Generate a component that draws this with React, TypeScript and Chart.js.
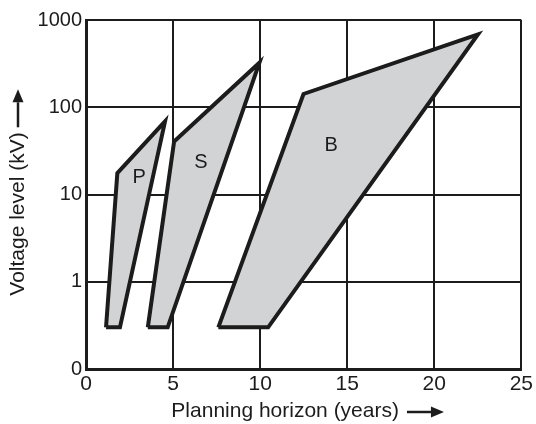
import React, { useEffect, useRef } from "react";
import { Chart, registerables } from "chart.js";

Chart.register(...registerables);

// Planning horizon (years) / Voltage level (kV) polygon vertices
const pX = [1.15, 1.95, 4.54, 1.8];
const pY = [0.3, 0.3, 69, 17.6];
const sX = [3.55, 4.69, 9.96, 5.06];
const sY = [0.3, 0.3, 324, 40.6];
const bX = [7.6, 10.46, 22.51, 12.49];
const bY = [0.3, 0.3, 685, 142];

const regionNames = ["P", "S", "B"];
const regionLabelX = [3.05, 6.6, 14.08];
const regionLabelY = [15.5, 23, 36];

const yTickValues = [0.1, 1, 10, 100, 1000];
const yTickLabels = ["0", "1", "10", "100", "1000"];
const xTickValues = [0, 5, 10, 15, 20, 25];

const xTitle = "Planning horizon (years)";
const yTitle = "Voltage level (kV)";

const FONT = "'Liberation Sans', Arial, Helvetica, sans-serif";
const INK = "#1c1c1c";
const FILL = "#d2d3d5";

function polygon(xs: number[], ys: number[]) {
  const pts = xs.map((x, i) => ({ x, y: ys[i] }));
  pts.push({ ...pts[0] });
  return pts;
}

function drawArrow(ctx: CanvasRenderingContext2D, x0: number, y0: number, x1: number, y1: number) {
  const ang = Math.atan2(y1 - y0, x1 - x0);
  const headLen = 13;
  const headHalf = 5.5;
  const bx = x1 - headLen * Math.cos(ang);
  const by = y1 - headLen * Math.sin(ang);
  ctx.save();
  ctx.strokeStyle = INK;
  ctx.fillStyle = INK;
  ctx.lineWidth = 2.5;
  ctx.beginPath();
  ctx.moveTo(x0, y0);
  ctx.lineTo(bx, by);
  ctx.stroke();
  ctx.beginPath();
  ctx.moveTo(x1, y1);
  ctx.lineTo(bx + headHalf * Math.sin(ang), by - headHalf * Math.cos(ang));
  ctx.lineTo(bx - headHalf * Math.sin(ang), by + headHalf * Math.cos(ang));
  ctx.closePath();
  ctx.fill();
  ctx.restore();
}

const overlayPlugin = {
  id: "overlay",
  afterDatasetsDraw(chart: any) {
    const ctx: CanvasRenderingContext2D = chart.ctx;
    const xs = chart.scales.x;
    const ys = chart.scales.y;
    const area = chart.chartArea;
    ctx.save();
    ctx.font = `20px ${FONT}`;
    ctx.fillStyle = INK;
    ctx.textAlign = "center";
    ctx.textBaseline = "middle";
    regionNames.forEach((n, i) => {
      ctx.fillText(n, xs.getPixelForValue(regionLabelX[i]), ys.getPixelForValue(regionLabelY[i]));
    });

    ctx.font = `21px ${FONT}`;
    // x title with arrow
    const gap = 8;
    const arrowLen = 37;
    const tw = ctx.measureText(xTitle).width;
    const total = tw + gap + arrowLen;
    const cx = (area.left + area.right) / 2 + 4;
    const startX = cx - total / 2;
    const ty = 411;
    ctx.textAlign = "left";
    ctx.fillText(xTitle, startX, ty);
    drawArrow(ctx, startX + tw + gap, ty + 1, startX + tw + gap + arrowLen, ty + 1);

    // y title with arrow (rotated)
    const yw = ctx.measureText(yTitle).width;
    const yTotal = yw + 5 + 38;
    const cy = (area.top + area.bottom) / 2 - 2;
    const startY = cy + yTotal / 2;
    const tx = 18;
    ctx.save();
    ctx.translate(tx, startY);
    ctx.rotate(-Math.PI / 2);
    ctx.textAlign = "left";
    ctx.fillText(yTitle, 0, 0);
    ctx.restore();
    drawArrow(ctx, tx, startY - yw - 5, tx, startY - yw - 5 - 38);
    ctx.restore();
  },
};

export default function App() {
  const ref = useRef<HTMLCanvasElement | null>(null);

  useEffect(() => {
    if (!ref.current) return;
    const mk = (xs: number[], ys: number[]) => ({
      data: polygon(xs, ys),
      showLine: true,
      fill: "shape",
      backgroundColor: FILL,
      borderColor: INK,
      borderWidth: 4,
      borderJoinStyle: "miter",
      pointRadius: 0,
      pointHoverRadius: 0,
      tension: 0,
    });
    const chart = new Chart(ref.current, {
      type: "scatter",
      data: {
        datasets: [mk(pX, pY), mk(sX, sY), mk(bX, bY)] as any,
      },
      options: {
        animation: false,
        responsive: false,
        maintainAspectRatio: false,
        layout: { padding: { left: 0, top: 20, right: 14, bottom: 0 } },
        plugins: {
          legend: { display: false },
          tooltip: { enabled: false },
        },
        scales: {
          x: {
            type: "linear",
            min: 0,
            max: 25,
            afterBuildTicks: (s: any) => {
              s.ticks = xTickValues.map((v) => ({ value: v }));
            },
            afterFit: (s: any) => {
              s.height = 55;
            },
            grid: { color: INK, lineWidth: 2, drawTicks: false },
            border: { color: INK, width: 3 },
            ticks: {
              color: INK,
              padding: 3,
              font: { family: FONT, size: 21 },
            },
          },
          y: {
            type: "logarithmic",
            min: 0.1,
            max: 1000,
            afterBuildTicks: (s: any) => {
              s.ticks = yTickValues.map((v) => ({ value: v }));
            },
            afterFit: (s: any) => {
              s.width = 86;
            },
            grid: { color: INK, lineWidth: 2, drawTicks: false },
            border: { color: INK, width: 3 },
            ticks: {
              color: INK,
              padding: 4,
              font: { family: FONT, size: 20 },
              callback: (v: any) => {
                const i = yTickValues.findIndex((t) => Math.abs(t - Number(v)) < 1e-9);
                return i >= 0 ? yTickLabels[i] : "";
              },
            },
          },
        },
      } as any,
      plugins: [overlayPlugin],
    });
    return () => chart.destroy();
  }, []);

  return (
    <div style={{ position: "fixed", left: 0, top: 0, width: 536, height: 424, background: "#fff" }}>
      <canvas ref={ref} width={536} height={424} style={{ width: 536, height: 424 }} />
    </div>
  );
}
